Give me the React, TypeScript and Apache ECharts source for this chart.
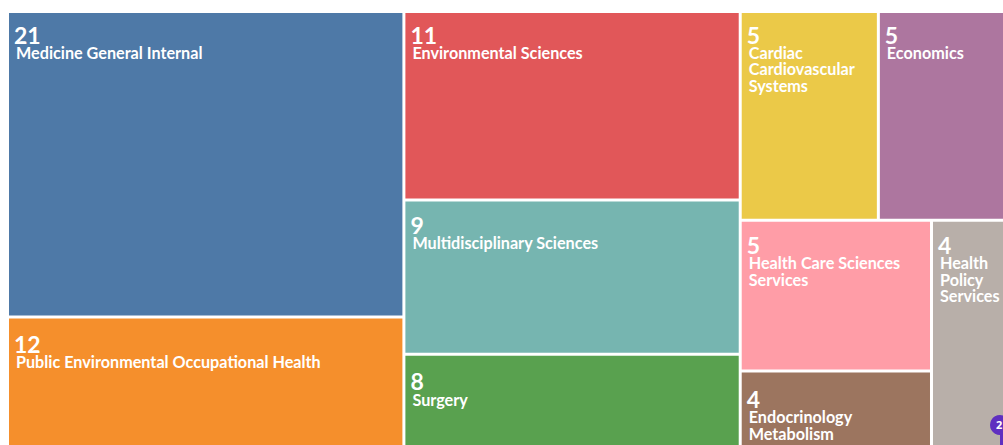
import React, { useEffect, useRef } from "react";
import * as echarts from "echarts";

const columnOneNames = ["Medicine General Internal", "Public Environmental Occupational Health"];
const columnOneValues = [21, 12];
const columnOneColors = ["#4e79a7", "#f58f2c"];

const columnTwoUpperNames = ["Environmental Sciences", "Multidisciplinary Sciences"];
const columnTwoUpperValues = [11, 9];
const columnTwoUpperColors = ["#e15759", "#76b5b0"];
const columnTwoLowerName = "Surgery";
const columnTwoLowerValue = 8;
const columnTwoLowerColor = "#59a14f";

const columnThreeNames = [
  "Cardiac\nCardiovascular\nSystems",
  "Economics",
  "Health Care Sciences\nServices",
  "Endocrinology\nMetabolism",
  "Health\nPolicy\nServices",
];
const columnThreeValues = [5, 5, 5, 4, 4];
const columnThreeColors = ["#ebc948", "#ad769f", "#ff9da7", "#9c755f", "#b8afa9"];

const badgeText = "2";

const labelTopPadding: Record<string, number> = {
  "Public Environmental Occupational Health": 16,
  "Multidisciplinary Sciences": 14,
  Surgery: 16,
  "Health Care Sciences\nServices": 14,
  "Endocrinology\nMetabolism": 17,
  "Health\nPolicy\nServices": 14,
};

const sum = (values: number[]) => values.reduce((a, b) => a + b, 0);

function leaf(name: string, value: number, color: string) {
  return {
    name,
    value,
    itemStyle: { color },
    label: { padding: [labelTopPadding[name] ?? 12, 0, 0, 5] },
  };
}

function leaves(names: string[], values: number[], colors: string[]) {
  return names.map((n, i) => leaf(n, values[i], colors[i]));
}

export default function App() {
  const ref = useRef<HTMLDivElement>(null);
  useEffect(() => {
    document.body.style.margin = "0";
    const chart = echarts.init(ref.current!, undefined, { renderer: "svg" });
    const gap = { borderWidth: 0, gapWidth: 3 };
    chart.setOption({
      animation: false,
      backgroundColor: "#ffffff",
      series: [
        {
          type: "treemap",
          left: 9,
          top: 13,
          width: 1006,
          height: 477,
          roam: false,
          nodeClick: false,
          sort: false,
          squareRatio: 1,
          breadcrumb: { show: false },
          itemStyle: gap,
          upperLabel: { show: false },
          levels: [{ itemStyle: gap }, { itemStyle: gap }, { itemStyle: gap }],
          label: {
            show: true,
            position: "insideTopLeft",
            distance: 0,
            overflow: "none",
            formatter: (p: any) => `{v|${p.value}}\n` + String(p.name).split("\n").map((l) => `{n|${l}}`).join("\n"),
            rich: {
              v: { fontFamily: "Lato", fontSize: 23, fontWeight: 700, color: "#fff", lineHeight: 19 },
              n: { fontFamily: "Lato", fontSize: 16.2, fontWeight: 700, color: "#fff", lineHeight: 16.5, padding: [0, 0, 0, 2] },
            },
          },
          data: [
            {
              name: "Group one",
              value: sum(columnOneValues),
              children: leaves(columnOneNames, columnOneValues, columnOneColors),
            },
            {
              name: "Group two",
              value: sum(columnTwoUpperValues) + columnTwoLowerValue,
              children: [
                {
                  name: "Group two upper",
                  value: sum(columnTwoUpperValues),
                  children: leaves(columnTwoUpperNames, columnTwoUpperValues, columnTwoUpperColors),
                },
                leaf(columnTwoLowerName, columnTwoLowerValue, columnTwoLowerColor),
              ],
            },
            {
              name: "Group three",
              value: sum(columnThreeValues),
              children: leaves(columnThreeNames, columnThreeValues, columnThreeColors),
            },
          ],
        },
      ],
      graphic: [
        { type: "rect", shape: { x: 1000, y: 430, width: 3, height: 15 }, style: { fill: "#5f2fc0" }, z: 100 },
        { type: "circle", shape: { cx: 1000, cy: 425, r: 10 }, style: { fill: "#5f2fc0" }, z: 100 },
        { type: "text", x: 996, y: 419, style: { text: badgeText, fill: "#fff", fontSize: 11, fontWeight: 700, fontFamily: "Noto Sans" }, z: 101 },
      ],
    });
    return () => chart.dispose();
  }, []);
  return <div ref={ref} style={{ width: 1003, height: 445 }} />;
}
